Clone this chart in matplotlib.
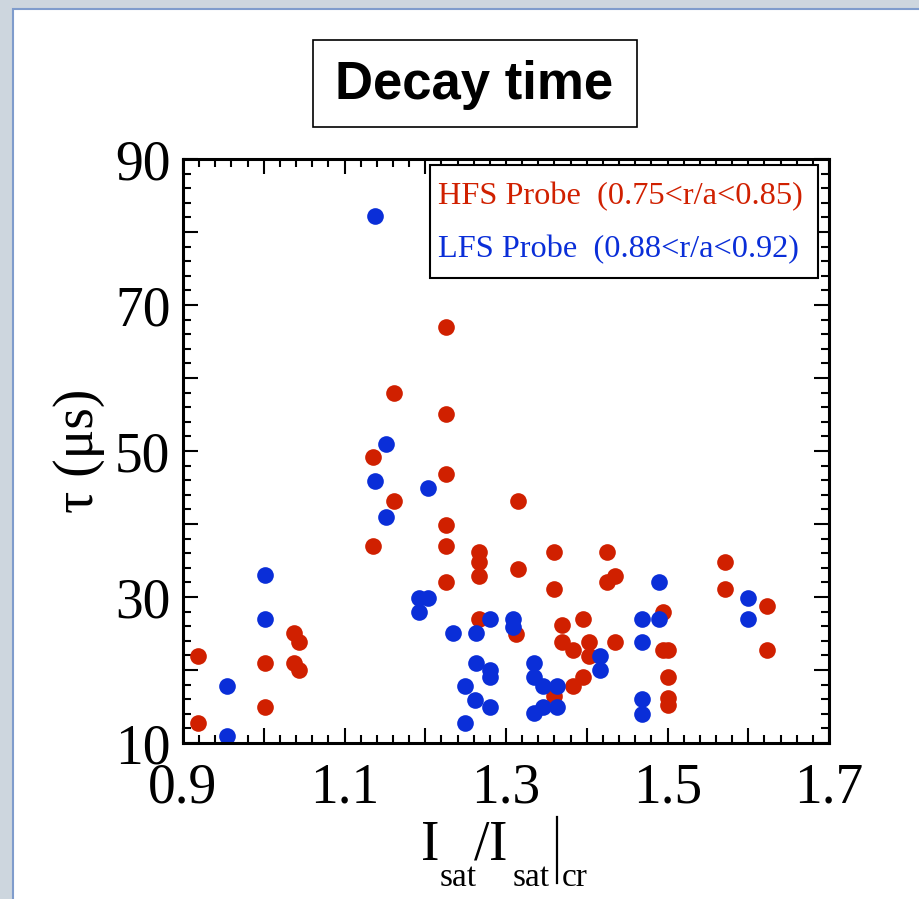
import matplotlib
matplotlib.use("Agg")
import matplotlib.pyplot as plt
from matplotlib.patches import Rectangle
from matplotlib.lines import Line2D
from matplotlib.ticker import MultipleLocator, FixedLocator, FixedFormatter

# HFS probe (red)
hfs_x = [0.918, 0.918, 1.001, 1.001, 1.0375, 1.044, 1.0375, 1.044,
         1.135, 1.135, 1.161, 1.161,
         1.226, 1.226, 1.226, 1.226, 1.226, 1.226,
         1.266, 1.266, 1.266, 1.266, 1.312, 1.315, 1.315,
         1.360, 1.360, 1.360, 1.369, 1.369, 1.383, 1.383,
         1.395, 1.395, 1.403, 1.403, 1.4256, 1.4256, 1.435, 1.435,
         1.494, 1.494, 1.500, 1.500, 1.500, 1.500,
         1.571, 1.571, 1.623, 1.623]
hfs_tau = [21.9, 12.7, 21.0, 15.0, 25.1, 23.8, 21.0, 20.0,
           49.2, 37.0, 57.9, 43.1,
           67.0, 55.1, 46.85, 39.9, 37.0, 32.0,
           36.1, 34.8, 32.9, 26.95, 25.0, 43.1, 33.9,
           36.1, 31.05, 16.5, 26.1, 23.8, 22.8, 17.8,
           26.95, 19.1, 23.8, 21.9, 36.1, 32.0, 32.9, 23.8,
           27.9, 22.8, 22.8, 19.1, 16.1, 15.2,
           34.8, 31.05, 28.8, 22.8]

# LFS probe (blue)
lfs_x = [0.955, 0.955, 1.001, 1.001, 1.138, 1.138, 1.152, 1.152,
         1.192, 1.204, 1.192, 1.204, 1.234, 1.249, 1.249, 1.261,
         1.263, 1.263, 1.280, 1.280, 1.280, 1.280, 1.309, 1.309,
         1.335, 1.335, 1.335, 1.346, 1.346, 1.363, 1.363,
         1.417, 1.417, 1.468, 1.468, 1.469, 1.469, 1.489, 1.489,
         1.600, 1.600]
lfs_tau = [17.8, 10.9, 33.0, 26.95, 82.2, 45.9, 51.0, 40.9,
           29.8, 29.8, 27.9, 44.9, 25.1, 17.8, 12.7, 15.9,
           25.1, 21.0, 26.95, 20.0, 19.0, 15.0, 26.95, 25.9,
           21.0, 19.1, 14.1, 17.8, 15.0, 17.8, 15.0,
           21.9, 20.0, 26.95, 23.8, 16.0, 14.0, 32.0, 26.95,
           29.8, 26.95]

legend_labels = ["HFS Probe  (0.75<r/a<0.85)", "LFS Probe  (0.88<r/a<0.92)"]
xtick_vals = [0.9, 1.0, 1.1, 1.2, 1.3, 1.4, 1.5, 1.6, 1.7]
xtick_labels = ["0.9", "", "1.1", "", "1.3", "", "1.5", "", "1.7"]
ytick_vals = [10, 20, 30, 40, 50, 60, 70, 80, 90]
ytick_labels = ["10", "", "30", "", "50", "", "70", "", "90"]

RED = "#d02000"
BLUE = "#0a2ed8"

plt.rcParams["font.family"] = ["Liberation Serif", "DejaVu Serif"]

fig = plt.figure(figsize=(9.2, 8.99), dpi=100)
fig.patch.set_facecolor("#cdd6de")
fig.add_artist(Rectangle((13 / 920, -0.05), 1.0, 1 - 9 / 899 + 0.05,
                         transform=fig.transFigure, facecolor="white",
                         edgecolor="#7f9ccc", linewidth=1.5, zorder=-1))

# title box
fig.add_artist(Rectangle((313 / 920, 1 - 127 / 899), 324 / 920, 87 / 899,
                         transform=fig.transFigure, facecolor="white",
                         edgecolor="black", linewidth=1.2))
fig.text(474 / 920, 1 - 85 / 899, "Decay time", ha="center", va="center",
         fontsize=38, fontweight="bold", family="Liberation Sans")

ax = fig.add_axes([183 / 920, 1 - 743 / 899, 646 / 920, 584 / 899])
ax.plot(hfs_x, hfs_tau, "o", color=RED, markersize=12,
        markeredgewidth=0, clip_on=False)
ax.plot(lfs_x, lfs_tau, "o", color=BLUE, markersize=12,
        markeredgewidth=0, clip_on=False)

ax.set_xlim(0.9, 1.7)
ax.set_ylim(10, 90)
ax.xaxis.set_major_locator(FixedLocator(xtick_vals))
ax.xaxis.set_major_formatter(FixedFormatter(xtick_labels))
ax.xaxis.set_minor_locator(MultipleLocator(0.02))
ax.yaxis.set_major_locator(FixedLocator(ytick_vals))
ax.yaxis.set_major_formatter(FixedFormatter(ytick_labels))
ax.yaxis.set_minor_locator(MultipleLocator(2))

ax.tick_params(which="both", direction="in", top=True, right=True,
               labelsize=40, width=1.5, colors="black")
ax.tick_params(which="major", length=11)
ax.tick_params(which="minor", length=6)
ax.tick_params(axis="x", pad=14)
ax.tick_params(axis="y", pad=9)
for s in ax.spines.values():
    s.set_linewidth(2.2)

ax.set_ylabel("\u03c4 (\u03bcs)", fontsize=40)
ax.yaxis.set_label_coords(-0.12, 0.5)

# legend: framed box with coloured text only
ax.add_patch(Rectangle((0.3824, 0.7962), 0.6006, 0.1935, transform=ax.transAxes,
                       facecolor="white", edgecolor="black", linewidth=1.5,
                       zorder=5))
for lbl, c, yy in zip(legend_labels, [RED, BLUE], [0.9349, 0.8442]):
    ax.text(0.3947, yy, lbl, transform=ax.transAxes, color=c, fontsize=23.3,
            ha="left", va="center", zorder=6)

# x label  I_sat / I_sat |_cr
def ftxt(x, y, s, size):
    fig.text(x / 920, 1 - y / 899, s, fontsize=size, ha="left", va="baseline",
             family="Liberation Serif")

ftxt(421, 860, "I", 40)
ftxt(440, 886, "sat", 24)
ftxt(474, 860, "/", 40)
ftxt(489, 860, "I", 40)
ftxt(513, 886, "sat", 24)
fig.add_artist(Line2D([557 / 920, 557 / 920], [1 - 817 / 899, 1 - 883 / 899],
                      transform=fig.transFigure, color="black", linewidth=1.6))
ftxt(562, 886, "cr", 24)

fig.savefig("out.png", dpi=100)
